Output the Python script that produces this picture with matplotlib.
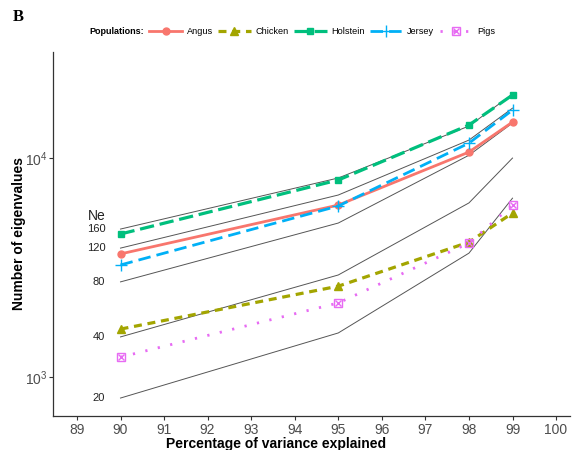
import numpy as np
import matplotlib
matplotlib.use('Agg')
import matplotlib.pyplot as plt

# data
pct = [90, 95, 98, 99]
angus = [3650, 6100, 10650, 14600]
chicken = [1656, 2600, 4130, 5610]
holstein = [4500, 7940, 14150, 19400]
jersey = [3250, 6040, 11700, 16560]
pigs = [1233, 2180, 4090, 6100]

# reference curves for several Ne
ne_labels = ['160', '120', '80', '40', '20']
ne_160 = [4740, 8110, 14000, 19600]
ne_120 = [3880, 6780, 12080, 16900]
ne_80 = [2720, 5050, 10300, 14450]
ne_40 = [1525, 2925, 6240, 10000]
ne_20 = [802, 1590, 3680, 6560]
ne_curves = [ne_160, ne_120, ne_80, ne_40, ne_20]

x_ticks = list(range(89, 101))

plt.rcParams['font.family'] = ['Liberation Sans', 'DejaVu Sans']
plt.rcParams['mathtext.fontset'] = 'custom'
plt.rcParams['mathtext.rm'] = 'Liberation Sans'
plt.rcParams['mathtext.it'] = 'Liberation Sans:italic'
plt.rcParams['mathtext.bf'] = 'Liberation Sans:bold'

fig = plt.figure(figsize=(5.72, 4.5), dpi=100)
ax = fig.add_axes([53/572, 1 - 416/450, (570-53)/572, (416-52)/450])

# gray Ne lines
for c in ne_curves:
    ax.plot(pct, c, color='#555555', lw=0.7, zorder=2)
for lab, c in zip(ne_labels, ne_curves):
    ax.text(89.65, c[0], lab, ha='right', va='center', fontsize=8, color='#222222')
ax.text(89.65, 5430, 'Ne', ha='right', va='center', fontsize=10, color='#222222')

# populations
l_angus, = ax.plot(pct, angus, color='#F8766D', lw=2.0, marker='o', ms=5, zorder=4)
l_chick, = ax.plot(pct, chicken, color='#A3A500', lw=2.3, linestyle=(0, (2.5, 1.8)),
                   marker='^', ms=6, zorder=4)
l_hol, = ax.plot(pct, holstein, color='#00BF7D', lw=2.3, linestyle=(0, (4.5, 1.8)),
                 marker='s', ms=5, zorder=3)
l_jer, = ax.plot(pct, jersey, color='#00B0F6', lw=2.0, linestyle=(0, (4.5, 2.2)),
                 marker='+', ms=8, mew=1.0, zorder=4)
l_pig, = ax.plot(pct, pigs, color='#E76BF3', lw=2.0, linestyle=(0, (0.8, 3.8)),
                 marker='s', ms=6, mfc='none', mew=1.0, zorder=4)
l_pigx, = ax.plot(pct, pigs, color='#E76BF3', lw=0, marker='x', ms=4.5, mew=1.0, zorder=4)

# axes
ax.set_yscale('log')
ax.set_xlim(88.45, 100.32)
ax.set_ylim(664, 30500)
ax.set_xticks(x_ticks)
ax.set_yticks([1000, 10000])
ax.yaxis.set_minor_locator(matplotlib.ticker.NullLocator())
ax.set_yticklabels([r'$\mathregular{10^3}$', r'$\mathregular{10^4}$'])
for s in ['top', 'right']:
    ax.spines[s].set_visible(False)
for s in ['left', 'bottom']:
    ax.spines[s].set_color('#333333')
    ax.spines[s].set_linewidth(0.9)
ax.tick_params(axis='both', labelsize=10, labelcolor='#4D4D4D', color='#333333',
               length=3, width=0.8, direction='out', pad=2)
ax.tick_params(axis='y', pad=1)

ax.set_xlabel('Percentage of variance explained', fontsize=10, fontweight='bold')
ax.xaxis.set_label_coords((276-53)/517, -0.058)
ax.set_ylabel('Number of eigenvalues', fontsize=10, fontweight='bold')
ax.yaxis.set_label_coords(-(53-26)/517, 0.5)

# legend across the top
fig.text(89/572, 1 - 32/450, 'Populations:', fontsize=6.5, fontweight='bold',
         ha='left', va='center')
handles = [l_angus, l_chick, l_hol, l_jer, (l_pig, l_pigx)]
names = ['Angus', 'Chicken', 'Holstein', 'Jersey', 'Pigs']
fig.legend(handles, names, loc='center left', bbox_to_anchor=(149/572, 1 - 32/450),
           ncol=5, frameon=False, fontsize=6.6, handlelength=3.6, handletextpad=0.5,
           columnspacing=0.55, borderaxespad=0, borderpad=0)

fig.text(18/572, 1 - 17/450, 'B', fontsize=12, fontweight='bold',
         family='Liberation Serif', ha='center', va='center')

fig.savefig('out.png', dpi=100)
